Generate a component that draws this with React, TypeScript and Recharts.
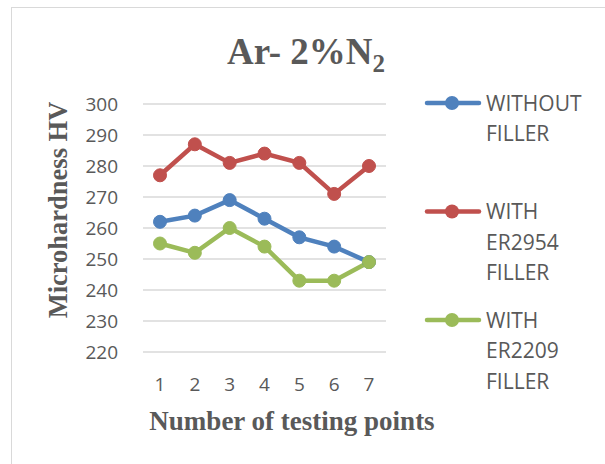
import React from 'react';
import { LineChart, Line, XAxis, YAxis, CartesianGrid } from 'recharts';

const categories = ['1', '2', '3', '4', '5', '6', '7'];
const withoutFiller = [262, 264, 269, 263, 257, 254, 249];
const withER2954 = [277, 287, 281, 284, 281, 271, 280];
const withER2209 = [255, 252, 260, 254, 243, 243, 249];
const yTicks = [220, 230, 240, 250, 260, 270, 280, 290, 300];
const seriesNames = ['WITHOUT FILLER', 'WITH ER2954 FILLER', 'WITH ER2209 FILLER'];
const legendLines = [['WITHOUT', 'FILLER'], ['WITH', 'ER2954', 'FILLER'], ['WITH', 'ER2209', 'FILLER']];
const seriesColors = ['#4F81BD', '#C0504D', '#9BBB59'];
const seriesKeys = ['a', 'b', 'c'];

const data = categories.map((c, i) => ({
  cat: c,
  a: withoutFiller[i],
  b: withER2954[i],
  c: withER2209[i],
}));

const TEXT = '#595959';
const SANS = '"Open Sans", sans-serif';
const SERIF = '"Liberation Serif", "Times New Roman", serif';

export default function App() {
  return (
    <div style={{ position: 'absolute', left: 0, top: 0, width: 605, height: 464, overflow: 'hidden', background: '#fff' }}>
      <div style={{ position: 'absolute', left: 11, top: 7, width: 700, height: 600, border: '1.5px solid #d9d9d9', boxSizing: 'border-box' }} />
      <div style={{ position: 'absolute', left: 0, top: 0 }}>
        <LineChart width={605} height={464} data={data} margin={{ top: 104, right: 219, bottom: 82, left: 83 }}>
          <CartesianGrid vertical={false} stroke="#d9d9d9" strokeWidth={1.5} />
          <XAxis
            dataKey="cat"
            height={30}
            axisLine={false}
            tickLine={false}
            tickSize={6}
            tickMargin={20}
            padding={{ left: 17, right: 17 }}
            tick={{ fill: TEXT, fontSize: 19, fontFamily: SANS }}
            interval={0}
          />
          <YAxis
            width={60}
            domain={[220, 300]}
            ticks={yTicks}
            axisLine={false}
            tickLine={false}
            tickSize={6}
            tickMargin={19}
            tick={{ fill: TEXT, fontSize: 19, fontFamily: SANS }}
            interval={0}
          />
          {seriesKeys.map((k, i) => (
            <Line
              key={k}
              dataKey={k}
              name={seriesNames[i]}
              stroke={seriesColors[i]}
              strokeWidth={4.5}
              dot={{ r: 6.5, fill: seriesColors[i], stroke: seriesColors[i], strokeWidth: 1 }}
              activeDot={false}
              isAnimationActive={false}
            />
          ))}
        </LineChart>
      </div>
      <svg width={605} height={464} style={{ position: 'absolute', left: 0, top: 0, pointerEvents: 'none' }}>
        <text x={306} y={64} textAnchor="middle" fill={TEXT} fontFamily={SERIF} fontWeight="bold" fontSize={37}>
          Ar- 2%N<tspan fontSize={25} dy={8}>2</tspan>
        </text>
        <text
          transform="translate(67,210) rotate(-90)"
          textAnchor="middle"
          fill={TEXT}
          fontFamily={SERIF}
          fontWeight="bold"
          fontSize={26.5}
        >
          Microhardness HV
        </text>
        <text x={292} y={430} textAnchor="middle" fill={TEXT} fontFamily={SERIF} fontWeight="bold" fontSize={27}>
          Number of testing points
        </text>
        {legendLines.map((lines, i) => {
          const cy = 103 + i * 108.5;
          return (
            <g key={i}>
              <line x1={427} x2={479} y1={cy} y2={cy} stroke={seriesColors[i]} strokeWidth={4.5} strokeLinecap="round" />
              <circle cx={452} cy={cy} r={7} fill={seriesColors[i]} />
              {lines.map((t, j) => (
                <text key={j} x={486} y={cy + j * 30.5 + 7.5} fill={TEXT} fontFamily={SANS} fontSize={21}>
                  {t}
                </text>
              ))}
            </g>
          );
        })}
      </svg>
    </div>
  );
}
